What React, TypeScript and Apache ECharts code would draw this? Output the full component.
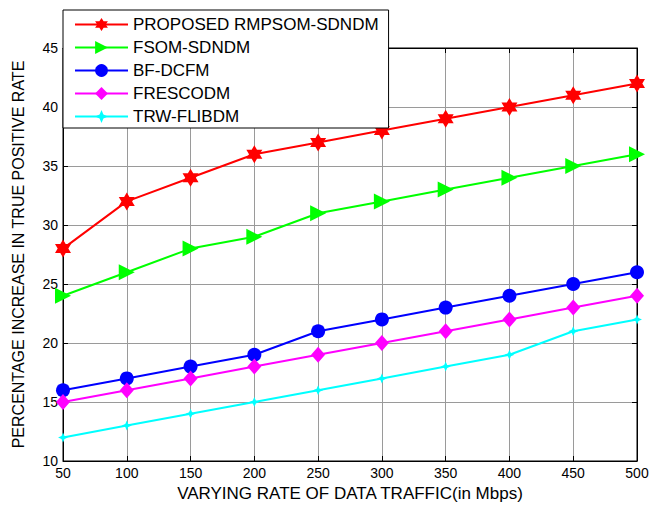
import React, { useEffect, useRef } from "react";
import * as echarts from "echarts";

const xValues = [50, 100, 150, 200, 250, 300, 350, 400, 450, 500];
const seriesNames = ["PROPOSED RMPSOM-SDNDM", "FSOM-SDNDM", "BF-DCFM", "FRESCODM", "TRW-FLIBDM"];
const proposed = [28, 32, 34, 36, 37, 38, 39, 40, 41, 42];
const fsom = [24, 26, 28, 29, 31, 32, 33, 34, 35, 36];
const bfdcfm = [16, 17, 18, 19, 21, 22, 23, 24, 25, 26];
const frescodm = [15, 16, 17, 18, 19, 20, 21, 22, 23, 24];
const trw = [12, 13, 14, 15, 16, 17, 18, 19, 21, 22];
const colors = ["#ff0000", "#00ff00", "#0000ff", "#ff00ff", "#00ffff"];

const hexagram =
  "path://M0,-100 L28.9,-50 L86.6,-50 L57.7,0 L86.6,50 L28.9,50 L0,100 L-28.9,50 L-86.6,50 L-57.7,0 L-86.6,-50 L-28.9,-50 Z";
const rightTri = "path://M0,0 L100,50 L0,100 Z";
const sparkle = "path://M0,-100 L30,-30 L100,0 L30,30 L0,100 L-30,30 L-100,0 L-30,-30 Z";

const symbols = [hexagram, rightTri, "circle", "diamond", sparkle];
const symbolSizes: any[] = [[16, 18], [16, 16], 14, [14, 16], 10];
const allData = [proposed, fsom, bfdcfm, frescodm, trw];

const FONT = "Liberation Sans, Arial, sans-serif";

export default function App() {
  const ref = useRef<HTMLDivElement>(null);
  useEffect(() => {
    if (!ref.current) return;
    const chart = echarts.init(ref.current, undefined, { renderer: "svg" });
    const series = seriesNames.map((name, i) => ({
      name,
      type: "line",
      data: xValues.map((x, j) => [x, allData[i][j]]),
      symbol: symbols[i],
      symbolSize: symbolSizes[i],
      showAllSymbol: true,
      lineStyle: { color: colors[i], width: 2 },
      itemStyle: { color: colors[i] },
      z: 3,
    }));
    const tickLen = 5;
    chart.setOption({
      animation: false,
      textStyle: { fontFamily: FONT },
      grid: {
        left: 63,
        right: 15,
        top: 48,
        bottom: 44,
        show: true,
        borderColor: "#000",
        borderWidth: 1,
        backgroundColor: "#fff",
      },
      legend: {
        orient: "vertical",
        left: 63,
        top: 10,
        padding: [6, 10, 3, 11],
        itemWidth: 53,
        itemHeight: 16,
        itemGap: 6,
        backgroundColor: "#fff",
        borderColor: "#000",
        borderWidth: 1,
        textStyle: { fontSize: 17, color: "#000", fontFamily: FONT, lineHeight: 17 },
        data: seriesNames,
        z: 10,
      },
      xAxis: [
        {
          type: "value",
          min: 50,
          max: 500,
          interval: 50,
          name: "VARYING RATE OF DATA TRAFFIC(in Mbps)",
          nameLocation: "middle",
          nameGap: 24,
          nameTextStyle: { fontSize: 17, color: "#000", fontFamily: FONT },
          axisLine: { show: true, lineStyle: { color: "#000", width: 1 } },
          axisTick: { show: true, inside: true, length: tickLen, lineStyle: { color: "#000" } },
          axisLabel: { fontSize: 14, color: "#000", margin: 5, fontFamily: FONT },
          splitLine: { show: true, lineStyle: { color: "#9a9a9a", width: 1 } },
        },
        {
          type: "value",
          position: "top",
          min: 50,
          max: 500,
          interval: 50,
          axisLine: { show: true, lineStyle: { color: "#000", width: 1 } },
          axisTick: { show: true, inside: true, length: tickLen, lineStyle: { color: "#000" } },
          axisLabel: { show: false },
          splitLine: { show: false },
        },
      ],
      yAxis: [
        {
          type: "value",
          min: 10,
          max: 45,
          interval: 5,
          name: "PERCENTAGE INCREASE IN TRUE POSITIVE RATE",
          nameLocation: "middle",
          nameGap: 37,
          nameTextStyle: { fontSize: 16, color: "#000", fontFamily: FONT },
          axisLine: { show: true, lineStyle: { color: "#000", width: 1 } },
          axisTick: { show: true, inside: true, length: tickLen, lineStyle: { color: "#000" } },
          axisLabel: { fontSize: 14, color: "#000", margin: 5, fontFamily: FONT },
          splitLine: { show: true, lineStyle: { color: "#9a9a9a", width: 1 } },
        },
        {
          type: "value",
          position: "right",
          min: 10,
          max: 45,
          interval: 5,
          axisLine: { show: true, lineStyle: { color: "#000", width: 1 } },
          axisTick: { show: true, inside: true, length: tickLen, lineStyle: { color: "#000" } },
          axisLabel: { show: false },
          splitLine: { show: false },
        },
      ],
      series,
    });
    return () => chart.dispose();
  }, []);
  return (
    <div
      ref={ref}
      style={{ width: 652, height: 507, position: "absolute", left: 0, top: 0, background: "#fff" }}
    />
  );
}
